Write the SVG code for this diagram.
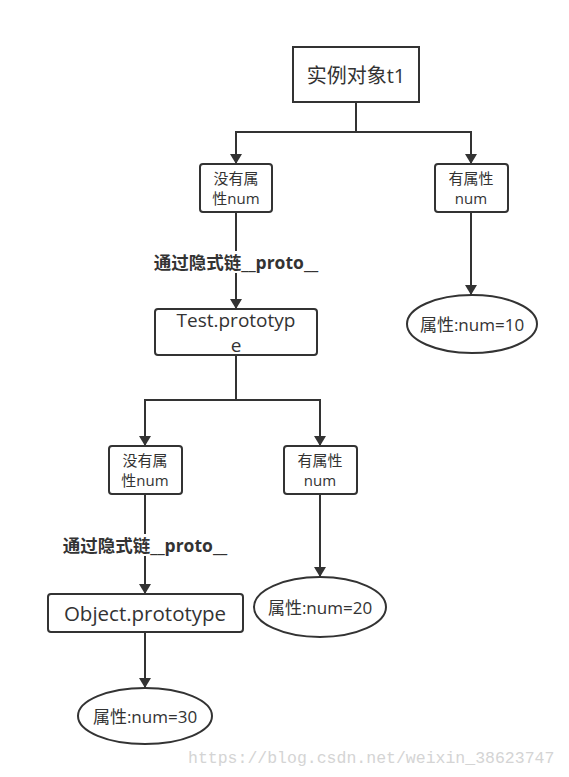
<svg xmlns="http://www.w3.org/2000/svg" width="569" height="777" viewBox="0 0 569 777">
<style>
.box{fill:#fff;stroke:#333;stroke-width:2}
.ln{fill:none;stroke:#333;stroke-width:2}
.t{font-family:"Open Sans","Noto Sans CJK SC",sans-serif;fill:#333;text-anchor:middle;dominant-baseline:central}
.top{font-size:20px}
.big{font-size:20.5px}
.two{font-size:19px}
.sm{font-size:15px}
.el{font-size:17px}
.lbl{font-family:"Open Sans","Noto Sans CJK SC",sans-serif;font-size:17.5px;font-weight:bold;fill:#333;text-anchor:middle;dominant-baseline:central}
.wm{font-family:"Liberation Mono","DejaVu Sans Mono",monospace;font-size:16.5px;fill:#d4d4d4}
</style>
<defs>
<marker id="arr" viewBox="0 0 10 12" refX="10" refY="6" markerWidth="10" markerHeight="12" markerUnits="userSpaceOnUse" orient="auto">
<path d="M0,0 L10,6 L0,12 Z" fill="#333"/>
</marker>
</defs>
<rect width="569" height="777" fill="#fff"/>
<g id="connectors">
<path class="ln" d="M356,102 V132 H236 V164" marker-end="url(#arr)"/>
<path class="ln" d="M356,132 H471 V164" marker-end="url(#arr)"/>
<path class="ln" d="M236,212 V309" marker-end="url(#arr)"/>
<path class="ln" d="M471,212 V295" marker-end="url(#arr)"/>
<path class="ln" d="M236,355 V400 H145 V446" marker-end="url(#arr)"/>
<path class="ln" d="M236,400 H320 V446" marker-end="url(#arr)"/>
<path class="ln" d="M145,494 V594" marker-end="url(#arr)"/>
<path class="ln" d="M320,494 V577" marker-end="url(#arr)"/>
<path class="ln" d="M145,632 V688" marker-end="url(#arr)"/>
</g>
<g id="label1"><rect x="150" y="251" width="172" height="22" fill="#fff"/><text class="lbl" x="236" y="262">通过隐式链__proto__</text></g>
<g id="label2"><rect x="58" y="534" width="172" height="22" fill="#fff"/><text class="lbl" x="145" y="545">通过隐式链__proto__</text></g>
<g id="t1"><rect class="box" x="293" y="47" width="126" height="55"/><text class="t top" x="356" y="75">实例对象t1</text></g>
<g id="noattr1"><rect class="box" x="200" y="164" width="72" height="48" rx="3"/><text class="t sm"><tspan x="236" y="178">没有属</tspan><tspan x="236" y="198">性num</tspan></text></g>
<g id="hasattr1"><rect class="box" x="435" y="164" width="73" height="48" rx="3"/><text class="t sm"><tspan x="471" y="178">有属性</tspan><tspan x="471" y="198">num</tspan></text></g>
<g id="num10"><ellipse class="box" cx="472" cy="324" rx="65" ry="29"/><text class="t el" x="472" y="324">属性:num=10</text></g>
<g id="testproto"><rect class="box" x="155" y="309" width="162" height="46" rx="3"/><text class="t two"><tspan x="236" y="320">Test.prototyp</tspan><tspan x="236" y="345">e</tspan></text></g>
<g id="noattr2"><rect class="box" x="109" y="446" width="73" height="48" rx="3"/><text class="t sm"><tspan x="145" y="460">没有属</tspan><tspan x="145" y="480">性num</tspan></text></g>
<g id="hasattr2"><rect class="box" x="284" y="446" width="73" height="48" rx="3"/><text class="t sm"><tspan x="320" y="460">有属性</tspan><tspan x="320" y="480">num</tspan></text></g>
<g id="num20"><ellipse class="box" cx="320" cy="607" rx="66" ry="30"/><text class="t el" x="320" y="607">属性:num=20</text></g>
<g id="objproto"><rect class="box" x="48" y="594" width="195" height="38" rx="3"/><text class="t big" x="145" y="613">Object.prototype</text></g>
<g id="num30"><ellipse class="box" cx="145" cy="716" rx="67" ry="28"/><text class="t el" x="145" y="716">属性:num=30</text></g>
<text class="wm" x="188" y="763">https://blog.csdn.net/weixin_38623747</text>
</svg>
